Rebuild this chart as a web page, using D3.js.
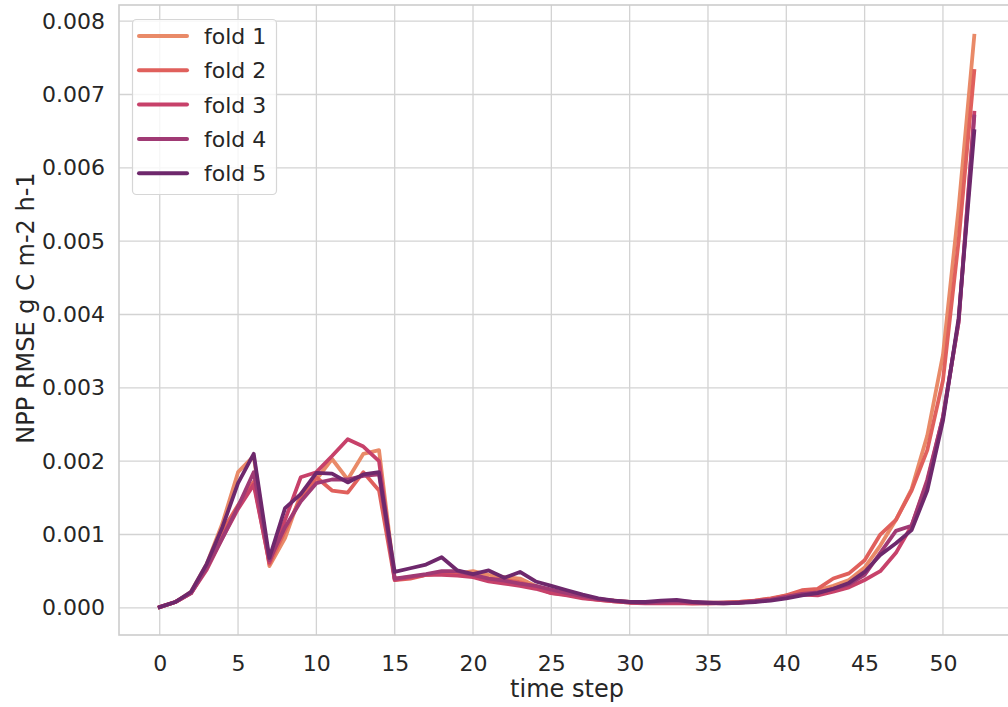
<!DOCTYPE html>
<html>
<head>
<meta charset="utf-8">
<script src="https://cdn.jsdelivr.net/npm/d3@7/dist/d3.min.js"></script>
<style>
  html, body { margin: 0; padding: 0; background: #ffffff; }
  svg { display: block; }
  text { font-family: "DejaVu Sans", sans-serif; fill: #262626; }
</style>
</head>
<body>
<svg id="chart" width="1008" height="707"></svg>
<script>
// NPP RMSE per time step for each cross-validation fold (units: g C m-2 h-1)
const timeSteps = d3.range(0, 53);

const fold1 = [0.00001,0.00008,0.00022,0.00060,0.00115,0.00185,0.00207,0.00057,0.00095,0.00155,0.00175,0.00203,0.00175,0.00210,0.00215,
  0.00040,0.00042,0.00045,0.00047,0.00047,0.00050,0.00045,0.00042,0.00040,0.00030,0.00022,0.00020,0.00015,0.00012,0.00010,
  0.00008,0.00007,0.00007,0.00007,0.00006,0.00007,0.00007,0.00008,0.00010,0.00012,0.00017,0.00020,0.00024,0.00030,0.00038,
  0.00055,0.00085,0.00120,0.00162,0.00235,0.00345,0.00545,0.00780];
const fold2 = [0.00001,0.00008,0.00020,0.00055,0.00105,0.00140,0.00172,0.00060,0.00105,0.00150,0.00178,0.00160,0.00157,0.00185,0.00160,
  0.00038,0.00040,0.00045,0.00047,0.00048,0.00045,0.00040,0.00038,0.00035,0.00028,0.00020,0.00018,0.00014,0.00011,0.00009,
  0.00007,0.00007,0.00007,0.00007,0.00006,0.00006,0.00007,0.00008,0.00010,0.00013,0.00017,0.00024,0.00026,0.00040,0.00047,
  0.00065,0.00100,0.00120,0.00160,0.00215,0.00310,0.00500,0.00732];
const fold3 = [0.00001,0.00008,0.00020,0.00052,0.00095,0.00135,0.00168,0.00062,0.00120,0.00178,0.00185,0.00207,0.00230,0.00220,0.00200,
  0.00038,0.00042,0.00045,0.00045,0.00044,0.00042,0.00036,0.00033,0.00030,0.00026,0.00020,0.00017,0.00013,0.00011,0.00009,
  0.00007,0.00006,0.00006,0.00006,0.00006,0.00006,0.00006,0.00007,0.00009,0.00011,0.00015,0.00018,0.00017,0.00022,0.00028,
  0.00038,0.00050,0.00075,0.00112,0.00175,0.00260,0.00390,0.00675];
const fold4 = [0.00001,0.00008,0.00020,0.00055,0.00095,0.00138,0.00185,0.00065,0.00110,0.00145,0.00170,0.00175,0.00175,0.00180,0.00182,
  0.00040,0.00043,0.00046,0.00050,0.00050,0.00045,0.00040,0.00037,0.00033,0.00030,0.00025,0.00020,0.00016,0.00012,0.00010,
  0.00008,0.00007,0.00008,0.00009,0.00008,0.00007,0.00007,0.00007,0.00009,0.00011,0.00015,0.00019,0.00021,0.00026,0.00032,
  0.00045,0.00075,0.00105,0.00112,0.00172,0.00260,0.00390,0.00670];
const fold5 = [0.00001,0.00008,0.00022,0.00060,0.00110,0.00170,0.00210,0.00068,0.00136,0.00155,0.00184,0.00183,0.00171,0.00182,0.00185,
  0.00049,0.00054,0.00059,0.00069,0.00051,0.00046,0.00051,0.00041,0.00049,0.00036,0.00030,0.00024,0.00018,0.00013,0.00010,
  0.00008,0.00008,0.00010,0.00011,0.00008,0.00007,0.00006,0.00007,0.00008,0.00010,0.00013,0.00017,0.00020,0.00026,0.00034,
  0.00049,0.00072,0.00088,0.00106,0.00160,0.00255,0.00395,0.00650];

const seriesNames = ["fold 1", "fold 2", "fold 3", "fold 4", "fold 5"];
const seriesValues = [fold1, fold2, fold3, fold4, fold5];
const seriesColors = ["#e98a68", "#e0605c", "#c7416a", "#a03a74", "#6e286c"];

const xTicks = [0, 5, 10, 15, 20, 25, 30, 35, 40, 45, 50];
const yTicks = [0, 0.001, 0.002, 0.003, 0.004, 0.005, 0.006, 0.007, 0.008];

const plot = { left: 119, top: 5, right: 1015, bottom: 635 };

const svg = d3.select("#chart");

const x = d3.scaleLinear().domain([-2.6, 54.6]).range([plot.left, plot.right]);
const y = d3.scaleLinear().domain([-0.00037, 0.00822]).range([plot.bottom, plot.top]);

// grid
const grid = svg.append("g");
grid.selectAll("line.vx").data(xTicks).join("line")
  .attr("x1", d => x(d)).attr("x2", d => x(d))
  .attr("y1", plot.top).attr("y2", plot.bottom)
  .attr("stroke", "#d3d3d3").attr("stroke-width", 1.3);
grid.selectAll("line.hy").data(yTicks).join("line")
  .attr("x1", plot.left).attr("x2", plot.right)
  .attr("y1", d => y(d)).attr("y2", d => y(d))
  .attr("stroke", "#d3d3d3").attr("stroke-width", 1.3);

// frame
svg.append("rect")
  .attr("x", plot.left).attr("y", plot.top)
  .attr("width", plot.right - plot.left).attr("height", plot.bottom - plot.top)
  .attr("fill", "none").attr("stroke", "#cccccc").attr("stroke-width", 1.6);

// axes (labels only, no tick marks)
const xAxis = d3.axisBottom(x).tickValues(xTicks).tickSize(0).tickPadding(20).tickFormat(d3.format("d"));
const gx = svg.append("g").attr("transform", `translate(0,${plot.bottom})`).call(xAxis);
gx.select(".domain").remove();
gx.selectAll("text").attr("font-size", 22).style("font-family", "DejaVu Sans, sans-serif").attr("fill", "#262626");

const yAxis = d3.axisLeft(y).tickValues(yTicks).tickSize(0).tickPadding(14).tickFormat(d3.format(".3f"));
const gy = svg.append("g").attr("transform", `translate(${plot.left},0)`).call(yAxis);
gy.select(".domain").remove();
gy.selectAll("text").attr("font-size", 22).style("font-family", "DejaVu Sans, sans-serif").attr("fill", "#262626");

// axis titles
svg.append("text")
  .attr("x", (plot.left + plot.right) / 2).attr("y", 697)
  .attr("text-anchor", "middle").attr("font-size", 24)
  .text("time step");
svg.append("text")
  .attr("transform", `translate(34,308) rotate(-90)`)
  .attr("text-anchor", "middle").attr("font-size", 24)
  .text("NPP RMSE g C m-2 h-1");

// lines
const line = d3.line().x((d, i) => x(timeSteps[i])).y(d => y(d));
svg.append("clipPath").attr("id", "plotclip").append("rect")
  .attr("x", plot.left).attr("y", plot.top)
  .attr("width", plot.right - plot.left).attr("height", plot.bottom - plot.top);
svg.append("g").attr("clip-path", "url(#plotclip)")
  .selectAll("path").data(seriesValues).join("path")
  .attr("d", d => line(d))
  .attr("fill", "none")
  .attr("stroke", (d, i) => seriesColors[i])
  .attr("stroke-width", 3.8)
  .attr("stroke-linejoin", "round")
  .attr("stroke-linecap", "square");

// legend
const lg = svg.append("g");
lg.append("rect")
  .attr("x", 132.5).attr("y", 19.5).attr("width", 144).attr("height", 175)
  .attr("rx", 4).attr("ry", 4)
  .attr("fill", "#ffffff").attr("fill-opacity", 0.8)
  .attr("stroke", "#d6d6d6").attr("stroke-width", 1.2);
const items = lg.selectAll("g.item").data(seriesNames).join("g")
  .attr("transform", (d, i) => `translate(0,${36 + i * 34.3})`);
items.append("line")
  .attr("x1", 139).attr("x2", 187).attr("y1", 0).attr("y2", 0)
  .attr("stroke", (d, i) => seriesColors[i]).attr("stroke-width", 4)
  .attr("stroke-linecap", "round");
items.append("text")
  .attr("x", 204).attr("y", 8).attr("font-size", 22)
  .text(d => d);
</script>
</body>
</html>
